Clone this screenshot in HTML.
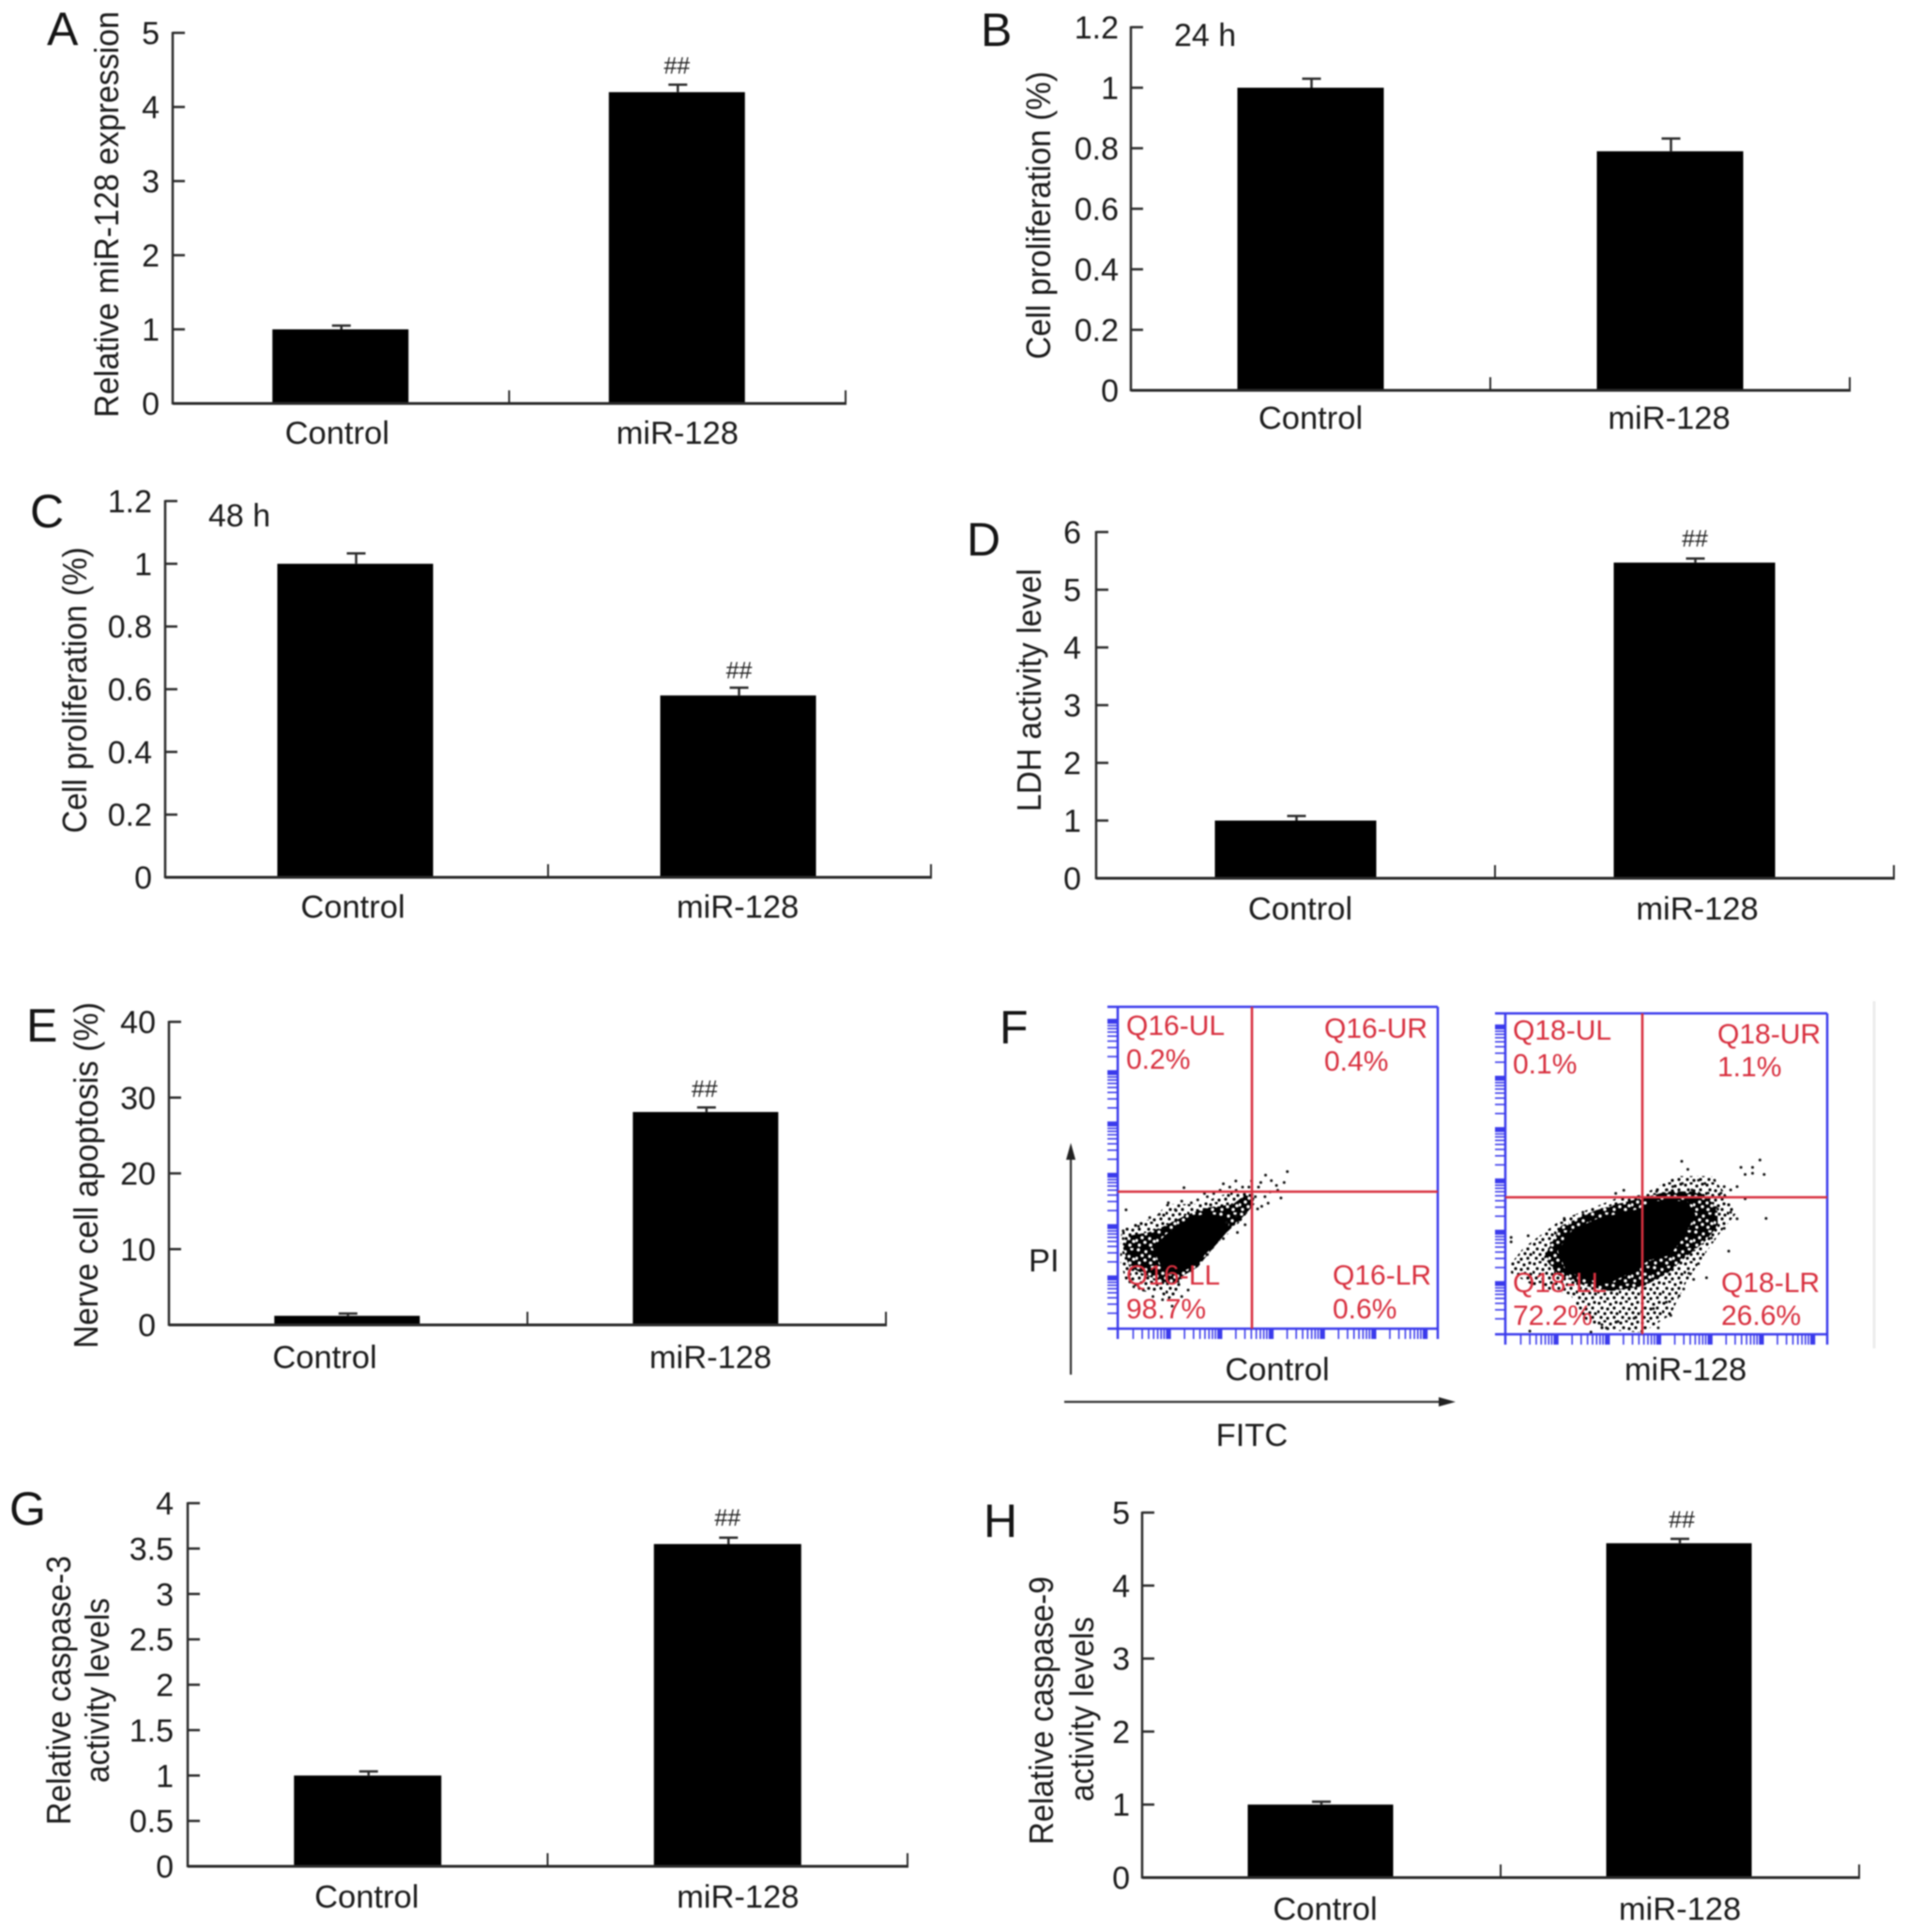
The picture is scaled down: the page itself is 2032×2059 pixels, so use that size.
<!DOCTYPE html>
<html lang="en">
<head>
<meta charset="utf-8">
<title>miR-128 multi-panel figure</title>
<style>
html,body{margin:0;padding:0;background:#fff;width:2032px;height:2059px;overflow:hidden}
svg{display:block;filter:blur(0.7px)}
text{font-family:"Liberation Sans",sans-serif;fill:#1c1c1c}
</style>
</head>
<body>
<svg id="figure" xmlns="http://www.w3.org/2000/svg" width="2032" height="2059" viewBox="0 0 2032 2059">
<defs>
<pattern id="speck-sparse" patternUnits="userSpaceOnUse" width="23" height="21">
<circle cx="2" cy="3" r="1.6"/><circle cx="8" cy="1" r="1.6"/><circle cx="14" cy="4" r="1.6"/><circle cx="20" cy="2" r="1.6"/>
<circle cx="5" cy="8" r="1.6"/><circle cx="11" cy="9" r="1.6"/><circle cx="18" cy="8" r="1.6"/><circle cx="1" cy="12" r="1.6"/>
<circle cx="8" cy="14" r="1.6"/><circle cx="15" cy="13" r="1.6"/><circle cx="21" cy="14" r="1.6"/><circle cx="4" cy="18" r="1.6"/>
<circle cx="11" cy="19" r="1.6"/><circle cx="18" cy="18" r="1.6"/>
</pattern>
<pattern id="speck-mid" patternUnits="userSpaceOnUse" width="22" height="19">
<rect width="22" height="19" fill="#000"/>
<g fill="#fff"><circle cx="3" cy="2" r="1.8"/><circle cx="11" cy="4" r="1.7"/><circle cx="18" cy="1" r="1.8"/>
<circle cx="7" cy="8" r="1.8"/><circle cx="15" cy="9" r="1.7"/><circle cx="1" cy="11" r="1.7"/>
<circle cx="20" cy="12" r="1.8"/><circle cx="10" cy="13" r="1.8"/><circle cx="4" cy="16" r="1.7"/><circle cx="16" cy="16" r="1.8"/></g>
</pattern>
</defs>
</svg>
<script>
// ---------- chart data ----------
const categories = ['Control', 'miR-128'];

const panelATicks = ['0', '1', '2', '3', '4', '5'];
const panelAValues = [1, 4.2];
const panelAErrors = [0.05, 0.1];
const panelAMarks = ['', '##'];

const panelBTicks = ['0', '0.2', '0.4', '0.6', '0.8', '1', '1.2'];
const panelBValues = [1, 0.79];
const panelBErrors = [0.03, 0.042];
const panelBMarks = ['', ''];

const panelCTicks = ['0', '0.2', '0.4', '0.6', '0.8', '1', '1.2'];
const panelCValues = [1, 0.58];
const panelCErrors = [0.033, 0.025];
const panelCMarks = ['', '##'];

const panelDTicks = ['0', '1', '2', '3', '4', '5', '6'];
const panelDValues = [1, 5.47];
const panelDErrors = [0.08, 0.07];
const panelDMarks = ['', '##'];

const panelETicks = ['0', '10', '20', '30', '40'];
const panelEValues = [1.2, 28.1];
const panelEErrors = [0.3, 0.6];
const panelEMarks = ['', '##'];

const panelGTicks = ['0', '0.5', '1', '1.5', '2', '2.5', '3', '3.5', '4'];
const panelGValues = [1, 3.55];
const panelGErrors = [0.045, 0.07];
const panelGMarks = ['', '##'];

const panelHTicks = ['0', '1', '2', '3', '4', '5'];
const panelHValues = [1, 4.58];
const panelHErrors = [0.04, 0.06];
const panelHMarks = ['', '##'];

// Flow cytometry, values are percent of the axis range [FITC, PI]
const controlDenseRegion = [[11.4,25],[15.3,28.9],[22.2,33.8],[28.1,35.5],[34.4,33.8],[34,30.9],[30.5,26.5],[27.1,23.6],[25.1,20.6],[20.2,18.2],[16.3,17.2],[13.9,19.7]];
const controlMidRegion = [[1.7,25],[3.6,28.9],[9.5,29.9],[14.4,31.8],[21.2,35.2],[28.1,37.7],[35.9,38.6],[39.8,41.5],[42.7,40.6],[41.8,37.7],[37.8,33.3],[34,29.9],[29,24.1],[25.1,19.2],[20.2,16.3],[19.3,14.3],[15.3,14.3],[9.5,16.3],[3.6,19.2]];
const controlSparseRegion = [[1.2,30.9],[5.6,32.9],[11.4,34.3],[15.3,38.7],[20.2,38.7],[26.1,38.7],[30,40.6],[35.9,42.6],[39.8,42.6],[42.7,41.6],[42.7,38.7],[38.8,33.8],[35.9,30.9],[31,26],[26.1,21.2],[20.2,16.3],[19.2,11.5],[15.3,8.6],[13.4,11.5],[7.5,11.5],[2.6,14.5],[0.7,21.2]];
const controlEvents = [[53,48.8],[46.2,47.7],[41.8,45.9],[33,45],[36.9,45.9],[20.7,43.8],[27.1,42],[30,42],[15.8,39.1],[20,39.6],[23,39.1],[2.6,36.9],[51,40.6],[52,45.4],[49.6,44.5],[44.7,45.4],[47.6,42.5],[43.7,37.2],[39.8,32.3],[37.4,29.9],[1.7,30.4],[1.7,28],[6.5,31.8],[44,44],[46,41],[48,46],[50,43],[45,38],[47,39],[43,41],[41,44],[39,44],[37,43],[35,44],[32,43],[28,41],[25,40],[18,37],[13,35.5],[10,34.5],[34,33],[37,35],[40,36],[33,28],[28,23],[23,18],[20,10],[17,7],[14,9],[11,10],[8,12],[5,13],[22,12]];

const treatedDenseRegion = [[16.8,25.9],[21.2,32.3],[29,35.7],[41.6,38.6],[45.5,41.1],[56.2,41.1],[58.6,37.2],[54.7,29.9],[50.8,25],[44.5,23.5],[38.7,19.6],[31.9,16.2],[25.1,17.7],[19.2,20.1]];
const treatedMidRegion = [[12,24],[17.3,33.8],[28,38.6],[34.8,40.6],[42.6,42.5],[50.4,44.5],[60.1,44.5],[65.9,39.6],[66,33.8],[62,28.9],[56,24],[50.4,19],[43,15],[33,13.5],[25.1,15],[16.3,18.5]];
const treatedSparseRegion = [[1.7,22],[5.6,26.9],[17.3,35.7],[25,38.6],[34.8,42.5],[42.6,43.5],[53.3,49.3],[64,49.3],[67.9,44.5],[71.7,37.6],[66.9,31.8],[62,25],[56.2,16.2],[51.3,6],[42.6,0.5],[29.9,1.5],[25,4.5],[20.2,12.3],[8.6,15.2],[1.7,19.1]];
const treatedEvents = [[54.8,53.9],[56.7,51.4],[79.1,54.3],[73.2,52],[76.8,52],[76.8,50.2],[74.5,49.8],[80.4,49.8],[81,36.1],[74.5,42.2],[69.4,25.9],[62.5,17.6],[58.5,17.1],[55.4,14.1],[36.8,44.9],[34.3,43.9],[7.1,30.7],[18.3,36.1],[24.1,38],[1.8,30.2],[1.8,28.8],[51.4,5.9],[47.5,2],[31.4,2],[26.6,0.7],[7.6,1],[60,48],[62,47],[65,48],[68,46],[70,45],[58,45],[55,47],[52,46],[50,45],[47,44.5],[72,46],[67,44],[63,44],[66,39],[70,38],[72,36],[68,33],[64,30],[60,22],[57,19],[54,12],[50,10],[46,8],[40,5],[35,4],[30,3]];

const controlGateLabels = ['Q16-UL', '0.2%', 'Q16-UR', '0.4%', 'Q16-LL', '98.7%', 'Q16-LR', '0.6%'];
const treatedGateLabels = ['Q18-UL', '0.1%', 'Q18-UR', '1.1%', 'Q18-LL', '72.2%', 'Q18-LR', '26.6%'];

// ---------- helpers ----------
const svg = document.getElementById('figure');
const NS = 'http://www.w3.org/2000/svg';
const INK = '#2b2b2b';
const BLUE = '#3b3bec';
const RED = '#d8303f';

function mk(tag, attrs, parent) {
  const el = document.createElementNS(NS, tag);
  for (const k in attrs) el.setAttribute(k, attrs[k]);
  (parent || svg).appendChild(el);
  return el;
}
function line(x1, y1, x2, y2, color, width, name, parent) {
  const el = mk('line', {x1: x1, y1: y1, x2: x2, y2: y2, stroke: color, 'stroke-width': width}, parent);
  
  
  return el;
}
function label(str, x, y, size, anchor, name, parent, color) {
  const el = mk('text', {x: x, y: y, 'font-size': size, 'text-anchor': anchor || 'start'}, parent);
  if (color) el.style.fill = color;
  el.textContent = str;
  
  
  return el;
}
function verticalTitle(str, baseX, yTop, yBottom, name, parent) {
  const cy = (yTop + yBottom) / 2;
  const el = mk('text', {
    x: 0, y: 0, 'font-size': 36, 'text-anchor': 'middle',
    textLength: yBottom - yTop, lengthAdjust: 'spacingAndGlyphs',
    transform: 'translate(' + baseX + ' ' + cy + ') rotate(-90)'
  }, parent);
  el.textContent = str;
  
  
  return el;
}

// ---------- bar panels ----------
function drawBarPanel(p) {
  const g = mk('g', {});
  
  
  const maxV = Number(p.ticks[p.ticks.length - 1]);
  const yScale = v => p.y0 - (v / maxV) * (p.y0 - p.yTop);
  const band = (p.x1 - p.x0) / p.values.length;
  const xScale = i => p.x0 + (i + 0.5) * band;

  label(p.id, p.letter[0], p.letter[1], 50, 'start', 'panel-letter-' + p.id.toLowerCase(), g, '#151515');

  // bars + error bars
  p.values.forEach((v, i) => {
    const cx = xScale(i) + p.barDx;
    const bar = mk('rect', {x: cx - p.barW / 2, y: yScale(v), width: p.barW, height: p.y0 - yScale(v), fill: '#000'}, g);
    
    
    const top = yScale(v + p.errors[i]);
    line(cx + 1, yScale(v), cx + 1, top, INK, 2.5, 'error-bar-' + categories[i].toLowerCase(), g);
    line(cx - 9, top, cx + 11, top, INK, 2.5, 'error-cap-' + categories[i].toLowerCase(), g);
    if (p.marks[i]) {
      label(p.marks[i], cx + p.markDx, top - p.markGap, 25, 'middle', 'significance-mark', g, '#222');
    }
    label(categories[i], xScale(i) + p.labelDx[i], p.labelY, 34.5, 'middle', 'x-tick-label-' + categories[i].toLowerCase(), g);
  });

  // axes
  line(p.x0, p.yTop - 1, p.x0, p.y0 + 1, INK, 2.5, 'y-axis', g);
  line(p.x0, p.y0, p.x1 + 1, p.y0, INK, 3, 'x-axis', g);
  p.ticks.forEach(t => {
    const y = yScale(Number(t));
    if (Number(t) !== 0) line(p.x0, y, p.x0 + 13, y, INK, 2.5, 'y-tick', g);
    label(t, p.tickRight, y + 12, 34, 'end', 'y-tick-label', g);
  });
  for (let i = 1; i <= p.values.length; i++) {
    const x = p.x0 + i * band;
    line(x, p.y0, x, p.y0 - 14, INK, 2, 'x-tick', g);
  }

  p.titles.forEach(t => verticalTitle(t.text, t.x, t.top, t.bottom, 'y-axis-title', g));
  if (p.note) label(p.note.text, p.note.x, p.note.y, 34, 'start', 'time-note', g);
}

const panels = [
  {id:'A', x0:184, x1:901, y0:430, yTop:35, barW:145, barDx:-0.5, ticks:panelATicks, values:panelAValues, errors:panelAErrors, marks:panelAMarks,
   markDx:0, markGap:12, labelDx:[-4,0], labelY:473, tickRight:170, letter:[50,48],
   titles:[{text:'Relative miR-128 expression', x:126, top:12, bottom:445}]},
  {id:'B', x0:1205, x1:1971, y0:416, yTop:29, barW:156, barDx:0, ticks:panelBTicks, values:panelBValues, errors:panelBErrors, marks:panelBMarks,
   markDx:0, markGap:12, labelDx:[0,-1], labelY:457, tickRight:1192, letter:[1045,49],
   titles:[{text:'Cell proliferation (%)', x:1119, top:76, bottom:383}], note:{text:'24 h', x:1251, y:49}},
  {id:'C', x0:176, x1:992, y0:935, yTop:534, barW:166, barDx:-1.5, ticks:panelCTicks, values:panelCValues, errors:panelCErrors, marks:panelCMarks,
   markDx:1, markGap:10, labelDx:[-4,-2], labelY:978, tickRight:162, letter:[32,562],
   titles:[{text:'Cell proliferation (%)', x:92, top:583, bottom:888}], note:{text:'48 h', x:222, y:561}},
  {id:'D', x0:1168, x1:2018, y0:936, yTop:567, barW:172, barDx:0, ticks:panelDTicks, values:panelDValues, errors:panelDErrors, marks:panelDMarks,
   markDx:0.5, markGap:13, labelDx:[5,3], labelY:980, tickRight:1152, letter:[1030,592],
   titles:[{text:'LDH activity level', x:1109, top:606, bottom:865}]},
  {id:'E', x0:180, x1:944, y0:1412, yTop:1089, barW:155, barDx:-1.2, ticks:panelETicks, values:panelEValues, errors:panelEErrors, marks:panelEMarks,
   markDx:-1, markGap:11, labelDx:[-25,4], labelY:1458, tickRight:166, letter:[28,1110],
   titles:[{text:'Nerve cell apoptosis (%)', x:104, top:1068, bottom:1437}]},
  {id:'G', x0:200, x1:967, y0:1989, yTop:1602, barW:157, barDx:0, ticks:panelGTicks, values:panelGValues, errors:panelGErrors, marks:panelGMarks,
   markDx:0, markGap:13, labelDx:[-1,11], labelY:2033, tickRight:185, letter:[10,1625],
   titles:[{text:'Relative caspase-3', x:75, top:1658, bottom:1945},{text:'activity levels', x:116, top:1703, bottom:1900}]},
  {id:'H', x0:1217, x1:1981, y0:2001, yTop:1612, barW:155, barDx:-1, ticks:panelHTicks, values:panelHValues, errors:panelHErrors, marks:panelHMarks,
   markDx:3, markGap:12, labelDx:[4,0], labelY:2046, tickRight:1204, letter:[1048,1638],
   titles:[{text:'Relative caspase-9', x:1122, top:1680, bottom:1966},{text:'activity levels', x:1165, top:1723, bottom:1920}]}
];
panels.forEach(drawBarPanel);

// ---------- flow cytometry ----------
function drawCytometry(c) {
  const g = mk('g', {});
  
  
  const fx = v => c.left + (v / 100) * (c.right - c.left);
  const fy = v => c.bottom - (v / 100) * (c.bottom - c.top);
  const pts = arr => arr.map(p => fx(p[0]) + ',' + fy(p[1])).join(' ');

  const sparse = mk('polygon', {points: pts(c.sparse), fill: 'url(#speck-sparse)'}, g);
  
  
  const mid = mk('polygon', {points: pts(c.mid), fill: 'url(#speck-mid)'}, g);
  
  
  const dense = mk('polygon', {points: pts(c.dense), fill: '#000', stroke: '#000', 'stroke-width': 3, 'stroke-linejoin': 'round'}, g);
  
  
  c.events.forEach(e => {
    const dot = mk('circle', {cx: fx(e[0]), cy: fy(e[1]), r: 1.5, fill: '#111'}, g);
    
    
  });

  // log-scale ticks
  const decade = 54.7;
  for (let d = 0; d < 7; d++) {
    for (let k = 1; k <= 10; k++) {
      const off = (d + Math.log10(k)) * decade;
      const major = k === 10;
      const lw = major ? 4 : 1.6;
      if (off <= c.bottom - c.top) line(c.left - 11, c.bottom - off, c.left, c.bottom - off, BLUE, lw, 'pi-axis-tick', g);
      if (off <= c.right - c.left) line(c.left + off, c.bottom, c.left + off, c.bottom + 11, BLUE, lw, 'fitc-axis-tick', g);
    }
  }
  line(c.left - 11, c.top, c.right, c.top, BLUE, 2.5, 'plot-top-border', g);
  line(c.left - 11, c.bottom, c.right, c.bottom, BLUE, 2.5, 'plot-bottom-border', g);
  line(c.left, c.top, c.left, c.bottom + 11, BLUE, 2.5, 'plot-left-border', g);
  line(c.right, c.top, c.right, c.bottom + 11, BLUE, 2.5, 'plot-right-border', g);

  line(c.gateX, c.top, c.gateX, c.bottom, RED, 2.6, 'gate-vertical', g);
  line(c.left, c.gateY, c.right, c.gateY, RED, 2.6, 'gate-horizontal', g);

  c.labels.forEach((t, i) => {
    const q = Math.floor(i / 2);
    const pos = c.labelPos[q];
    label(t, pos[0], pos[1 + (i % 2)], 30, 'start', i % 2 ? 'gate-percent' : 'gate-name', g, RED);
  });
  label(c.caption, c.captionX, 1471, 34.5, 'middle', 'sample-label', g);
}

drawCytometry({name:'flow-plot-control', left:1191, right:1532, top:1073, bottom:1416, gateX:1334, gateY:1270,
  dense:controlDenseRegion, mid:controlMidRegion, sparse:controlSparseRegion, events:controlEvents, labels:controlGateLabels,
  labelPos:[[1200,1103,1139],[1411,1106,1141],[1200,1369,1405],[1420,1369,1405]], caption:'Control', captionX:1361});
drawCytometry({name:'flow-plot-mir-128', left:1604, right:1947, top:1080, bottom:1422, gateX:1750, gateY:1276,
  dense:treatedDenseRegion, mid:treatedMidRegion, sparse:treatedSparseRegion, events:treatedEvents, labels:treatedGateLabels,
  labelPos:[[1612,1108,1144],[1830,1112,1147],[1612,1377,1412],[1834,1377,1412]], caption:'miR-128', captionX:1796});

// shared flow panel furniture
label('F', 1065, 1112, 50, 'start', 'panel-letter-f', svg, '#151515');
label('PI', 1096, 1355, 34.5, 'start', 'pi-axis-title');
label('FITC', 1334, 1541, 34.5, 'middle', 'fitc-axis-title');
line(1141, 1465, 1141, 1232, '#333', 2.2, 'pi-arrow-shaft');
const piHead = mk('polygon', {points: '1141,1218 1136,1236 1146,1236', fill: '#222'});


line(1134, 1494, 1540, 1494, '#333', 2.2, 'fitc-arrow-shaft');
const fitcHead = mk('polygon', {points: '1551,1494 1533,1489 1533,1499', fill: '#222'});


line(1997, 1067, 1997, 1437, '#ececec', 3, 'image-edge-line');
</script>
</body>
</html>
